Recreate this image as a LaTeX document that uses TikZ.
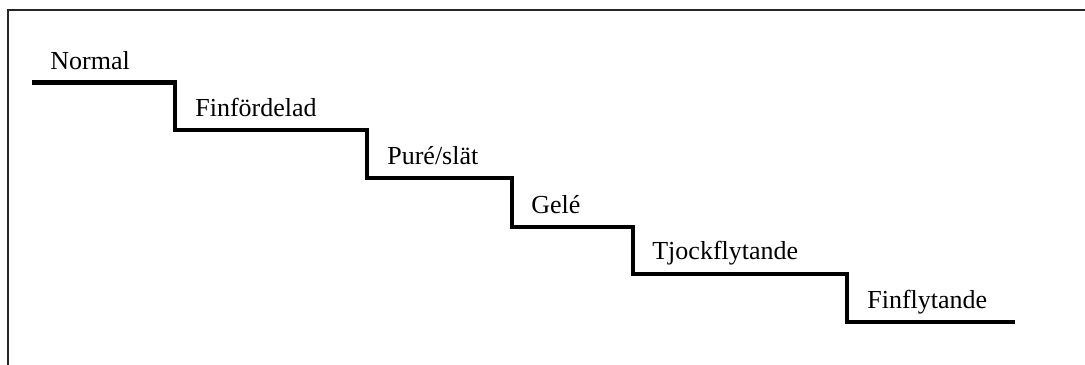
\documentclass[tikz,border=0pt]{standalone}
\usepackage{fontspec}
\setmainfont{Liberation Serif}
\begin{document}
\begin{tikzpicture}[x=0.02cm, y=-0.02cm, font=\fontsize{14.8}{17}\selectfont,
    niva/.style={anchor=base west, inner sep=0pt}]
  \useasboundingbox (0,0) rectangle (1085,365);
  % ramen syns bara upptill och till vänster
  \draw[black!85, line width=0.75pt] (1085,10) -- (8,10) -- (8,365);
  \draw[line width=2.3pt] (32,82.5) -| (175,130) -| (367,178) -| (512,227)
    -| (633,274) -| (847,322) -- (1015,322);
  \node[niva] (normal) at (50,69) {Normal};
  \node[niva] (finford) at (195,116) {Finfördelad};
  \node[niva] (pure) at (387,164) {Puré/slät};
  \node[niva] (gele) at (531,213) {Gelé};
  \node[niva] (tjock) at (652,259) {Tjockflytande};
  \node[niva] (finfly) at (867,308) {Finflytande};
\end{tikzpicture}
\end{document}
